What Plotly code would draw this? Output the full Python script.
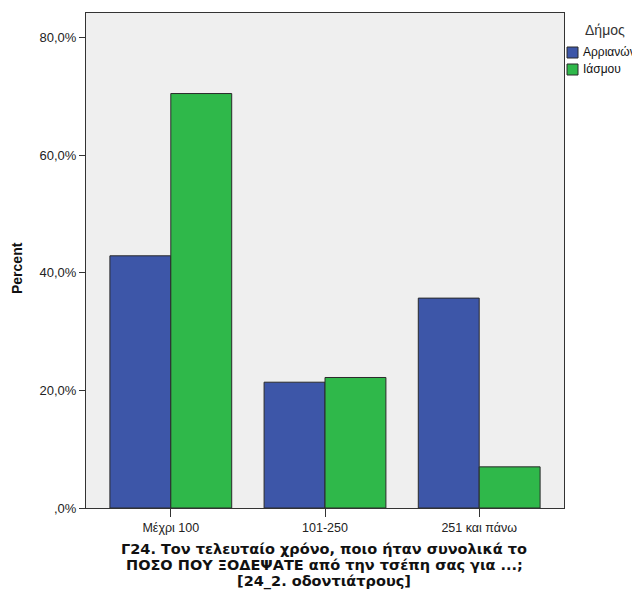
import plotly.graph_objects as go

categories = ["Μέχρι 100", "101-250", "251 και πάνω"]
arrianon = [42.9, 21.4, 35.7]
iasmou = [70.5, 22.2, 7.0]
series_names = ["Αρριανών", "Ιάσμου"]
series_colors = ["#3d56a8", "#2fb84a"]
legend_title = "Δήμος"
y_tickvals = [0, 20, 40, 60, 80]
y_ticktext = [",0%", "20,0%", "40,0%", "60,0%", "80,0%"]
x_title_lines = [
    "Γ24. Τον τελευταίο χρόνο, ποιο ήταν συνολικά το",
    "ΠΟΣΟ ΠΟΥ ΞΟΔΕΨΑΤΕ από την τσέπη σας για ...;",
    "[24_2. οδοντιάτρους]",
]

FONT = "Liberation Sans, Arial, sans-serif"
TFONT = "DejaVu Sans, Liberation Sans, sans-serif"
OFF = 8  # page body margin offset
W, H = 640, 599 - OFF
ML, MR, MT, MB = 86 - OFF, 640 - (564 - OFF), 13 - OFF, 91

fig = go.Figure()
for name, vals, col in zip(series_names, [arrianon, iasmou], series_colors):
    fig.add_trace(go.Bar(x=categories, y=vals, name=name, showlegend=False,
                         marker=dict(color=col, line=dict(color="#2a2a2a", width=1))))

def px_x(x):
    return (x - OFF - ML) / (W - ML - MR)

def px_y(y):
    return 1 - (y - OFF - MT) / (H - MT - MB)

annotations = []
shapes = []
annotations.append(dict(text=legend_title, x=px_x(583), y=px_y(30), xref="paper", yref="paper",
                        xanchor="left", yanchor="middle", showarrow=False,
                        font=dict(size=14, family=FONT, color="#333")))
for i, (name, col) in enumerate(zip(series_names, series_colors)):
    top = 47 + i * 17
    shapes.append(dict(type="rect", xref="paper", yref="paper",
                       x0=px_x(567), x1=px_x(578), y0=px_y(top), y1=px_y(top + 11),
                       fillcolor=col, line=dict(color="#2a2a2a", width=1)))
    annotations.append(dict(text=name, x=px_x(581), y=px_y(top + 5.5), xref="paper", yref="paper",
                            xanchor="left", yanchor="middle", showarrow=False,
                            font=dict(size=12, family=FONT, color="#111")))
for i, line in enumerate(x_title_lines):
    annotations.append(dict(text="<b>" + line + "</b>", x=px_x(324), y=px_y(549 + i * 16),
                            xref="paper", yref="paper", xanchor="center", yanchor="middle",
                            showarrow=False, font=dict(size=14.5, family=TFONT, color="#111")))
annotations.append(dict(text="<b>Percent</b>", x=px_x(17), y=px_y(268), xref="paper", yref="paper",
                        xanchor="center", yanchor="middle", showarrow=False, textangle=-90,
                        font=dict(size=14, family=FONT, color="#111")))

fig.update_layout(
    width=W, height=H,
    margin=dict(l=ML, r=MR, t=MT, b=MB, autoexpand=False),
    paper_bgcolor="white", plot_bgcolor="#efefef",
    barmode="group", bargap=0.21, bargroupgap=0,
    font=dict(family=FONT, size=12, color="#222"),
    showlegend=False,
    annotations=annotations, shapes=shapes,
    xaxis=dict(
        range=[-0.55, 2.55], showline=True, linecolor="#333", linewidth=1, mirror=True,
        ticks="outside", ticklen=8, tickcolor="#333", showgrid=False,
        tickfont=dict(size=12.5, family=FONT, color="#222"),
    ),
    yaxis=dict(
        range=[0, 84.2], showline=True, linecolor="#333", linewidth=1, mirror=True,
        ticks="outside", ticklen=6, tickcolor="#333", showgrid=False, zeroline=False,
        tickvals=y_tickvals, ticktext=y_ticktext,
        tickfont=dict(size=13, family=FONT, color="#222"),
    ),
)

fig.write_html("out.html")
